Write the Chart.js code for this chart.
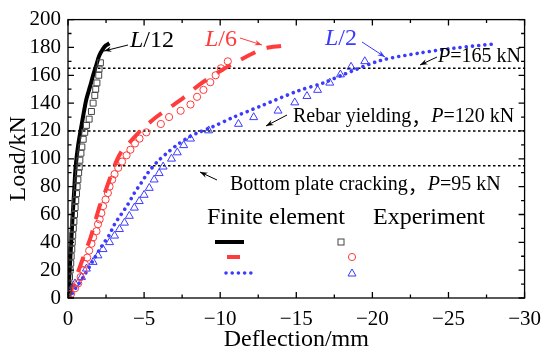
<!DOCTYPE html>
<html>
<head>
<meta charset="utf-8">
<script src="https://cdn.jsdelivr.net/npm/chart.js@4.4.0/dist/chart.umd.min.js"></script>
<style>
  body { margin: 0; background: #fff; }
  #wrap { width: 550px; height: 354px; }
</style>
</head>
<body>
<div id="wrap"><canvas id="load_chart" width="550" height="354"></canvas></div>
<script>
// L/12 finite element curve and test points
const fe12X = [0, -0.1, -0.2, -0.3, -0.4, -0.5, -0.67, -0.89, -1.05, -1.21, -1.45, -1.65, -1.85, -2.05, -2.3, -2.5, -2.72];
const fe12Y = [0, 18, 38, 58, 76, 94, 110, 124, 134, 143, 152, 160, 167, 174, 179, 181.5, 183];
const ex12X = [0, -0.03, -0.07, -0.1, -0.14, -0.18, -0.21, -0.25, -0.28, -0.31, -0.35, -0.39, -0.43, -0.47, -0.51, -0.56, -0.6, -0.65, -0.7, -0.74, -0.78, -0.85, -0.91, -1.0, -1.1, -1.21, -1.39, -1.54, -1.65, -1.76, -1.82, -1.9, -2.02, -2.04, -2.13];
const ex12Y = [0, 5, 10, 15, 20, 25, 30, 35, 40, 45, 50, 55, 60, 65, 70, 75, 80, 85, 90, 94, 99, 104, 108.5, 114, 119, 124, 128.5, 134, 140, 145.5, 150, 154.5, 160, 164.5, 169];

// L/6
const fe6X = [0, -0.3, -0.6, -0.9, -1.2, -1.5, -1.76, -2.08, -2.4, -2.84, -3.17, -3.5, -3.9, -4.8, -5.8, -6.7, -7.6, -8.6, -10, -11.3, -12.2, -13, -14];
const fe6Y = [0, 8, 17, 26, 35, 44, 54, 66, 75, 88.6, 98, 105, 110, 120.5, 130, 137, 144, 153, 163, 171, 176, 179.5, 181];
const ex6X = [0, -0.2, -0.46, -0.67, -0.83, -1.0, -1.1, -1.26, -1.39, -1.54, -1.65, -1.87, -1.97, -2.08, -2.19, -2.3, -2.47, -2.62, -2.73, -2.9, -3.06, -3.3, -3.55, -3.85, -4.1, -4.4, -4.7, -5.15, -6.1, -6.64, -7.4, -8.05, -8.48, -8.9, -9.35, -9.7, -10.05, -10.5];
const ex6Y = [0, 3, 7, 10.5, 15, 20, 24.5, 29, 34, 39, 43.5, 48, 53, 56.5, 61, 66, 70.7, 75.4, 80, 85, 89, 93.5, 98, 102.5, 106.5, 111, 114.5, 119, 125, 130, 134.5, 139, 144.5, 149.5, 155, 160, 165, 170];

// L/2
const fe2X = [0, -0.5, -1.0, -1.6, -2.2, -2.7, -3.06, -3.49, -3.92, -4.36, -4.8, -5.23, -5.88, -6.6, -7.3, -7.95, -8.6, -9.45, -10.8, -12.8, -15.1, -16.8, -18.1, -20.5, -23.1, -25.3, -28];
const fe2Y = [0, 7, 15, 26, 37, 45, 53, 60, 67, 75.4, 82.5, 89.6, 98, 105, 111, 115.6, 119, 122.7, 129.5, 138.5, 148.7, 154.6, 160.5, 170.5, 176, 179.4, 182.5];
const ex2X = [-0.13, -0.46, -0.89, -1.21, -1.65, -1.97, -2.3, -2.73, -3.06, -3.38, -3.71, -4.03, -4.36, -4.68, -5.0, -5.34, -5.66, -5.99, -6.25, -6.8, -7.18, -7.6, -8.05, -9.24, -11.2, -12.2, -13.8, -14.9, -15.7, -16.4, -17.2, -17.9, -18.6, -19.5];
const ex2Y = [4.5, 10.4, 15, 21, 25.8, 30.5, 35, 40, 44.7, 49.4, 54, 58.9, 64.8, 69.5, 74, 79, 85, 89.6, 94.3, 100, 104.5, 109.7, 114.4, 120.3, 125, 129.8, 134.5, 140.4, 145, 149.4, 154.6, 160.5, 166, 170];

// characteristic loads (kN) and the x range they span
const refLoads = [165, 120, 95];
const refSpan = [0, -30];

const xTicks = [0, -5, -10, -15, -20, -25, -30];
const yTicks = [0, 20, 40, 60, 80, 100, 120, 140, 160, 180, 200];

const SERIF = '"Liberation Serif", "Times New Roman", "Noto Serif CJK SC", "Noto Sans CJK SC", serif';
const RED = '#ff3b3b';
const BLUE = '#3b3bff';

function pts(xs, ys){
    return xs.map((v, i) => ({x: v, y: ys[i]}));
}

let datasets = [];
refLoads.forEach(p => {
    datasets.push({
        data: refSpan.map(v => ({x: v, y: p})),
        showLine: true, pointRadius: 0, borderColor: '#000', borderWidth: 1.6,
        borderDash: [2.5, 2.5], order: 5
    });
});
datasets.push(
    {data: pts(ex12X, ex12Y), pointStyle: 'rect', pointRadius: 4.2, borderWidth: 1,
     borderColor: '#444', backgroundColor: 'rgba(0,0,0,0)', showLine: false},
    {data: pts(ex6X, ex6Y), pointStyle: 'circle', pointRadius: 3.6, borderWidth: 1,
     borderColor: RED, backgroundColor: 'rgba(0,0,0,0)', showLine: false},
    {data: pts(ex2X, ex2Y), pointStyle: 'triangle', pointRadius: 4.6, borderWidth: 1,
     borderColor: BLUE, backgroundColor: 'rgba(0,0,0,0)', showLine: false},
    {data: pts(fe12X, fe12Y), showLine: true, pointRadius: 0, borderColor: '#000',
     borderWidth: 4, tension: 0.3},
    {data: pts(fe6X, fe6Y), showLine: true, pointRadius: 0, borderColor: RED,
     borderWidth: 4, borderDash: [16, 12], tension: 0.3},
    {data: pts(fe2X, fe2Y), showLine: true, pointRadius: 0, borderColor: BLUE,
     borderWidth: 3.6, borderDash: [0.01, 6.2], borderCapStyle: 'round', tension: 0.3}
);

function arrow(ctx, x1, y1, x2, y2, color){
    ctx.save();
    ctx.strokeStyle = color; ctx.fillStyle = color; ctx.lineWidth = 1;
    ctx.beginPath(); ctx.moveTo(x1, y1); ctx.lineTo(x2, y2); ctx.stroke();
    let a = Math.atan2(y2 - y1, x2 - x1);
    ctx.beginPath();
    ctx.moveTo(x2, y2);
    ctx.lineTo(x2 - 8 * Math.cos(a - 0.35), y2 - 8 * Math.sin(a - 0.35));
    ctx.lineTo(x2 - 5 * Math.cos(a), y2 - 5 * Math.sin(a));
    ctx.lineTo(x2 - 8 * Math.cos(a + 0.35), y2 - 8 * Math.sin(a + 0.35));
    ctx.closePath(); ctx.fill();
    ctx.restore();
}

function rich(ctx, parts, x, y){
    ctx.save();
    ctx.textBaseline = 'middle'; ctx.textAlign = 'left';
    parts.forEach(p => {
        ctx.font = p[1];
        ctx.fillStyle = p[2] || '#000';
        ctx.fillText(p[0], x, y);
        x += ctx.measureText(p[0]).width;
    });
    ctx.restore();
}

const decor = {
    id: 'decor',
    afterDatasetsDraw(chart){
        const {ctx, chartArea: a, scales: {x, y}} = chart;
        ctx.save();
        // frame and inward ticks
        ctx.strokeStyle = '#000'; ctx.lineWidth = 1.3;
        ctx.strokeRect(a.left, a.top, a.right - a.left, a.bottom - a.top);
        for (let v = 0; v >= -30; v -= 2.5){
            let px = x.getPixelForValue(v);
            let len = (v % 5 === 0) ? 6 : 3.5;
            ctx.beginPath();
            ctx.moveTo(px, a.bottom); ctx.lineTo(px, a.bottom - len);
            ctx.moveTo(px, a.top); ctx.lineTo(px, a.top + len);
            ctx.stroke();
        }
        for (let v = 0; v <= 200; v += 10){
            let py = y.getPixelForValue(v);
            let len = (v % 20 === 0) ? 6 : 3.5;
            ctx.beginPath();
            ctx.moveTo(a.left, py); ctx.lineTo(a.left + len, py);
            ctx.moveTo(a.right, py); ctx.lineTo(a.right - len, py);
            ctx.stroke();
        }
        ctx.restore();

        // curve labels
        const it = 'italic 24px ' + SERIF, up = '24px ' + SERIF;
        rich(ctx, [['L', it], ['/12', up]], 130, 41);
        arrow(ctx, 128, 45, 104, 51, '#000');
        rich(ctx, [['L', it, RED], ['/6', up, RED]], 205, 40);
        arrow(ctx, 240, 38, 262, 45, RED);
        rich(ctx, [['L', it, BLUE], ['/2', up, BLUE]], 325, 39);
        arrow(ctx, 362, 42, 385, 57, BLUE);

        // load level notes
        const f20 = '20px ' + SERIF, i20 = 'italic 20px ' + SERIF;
        const cjk = '20px "Noto Sans CJK SC", sans-serif';
        rich(ctx, [['P', i20], ['=165 kN', f20]], 438, 57);
        arrow(ctx, 437, 57, 420, 65, '#000');
        rich(ctx, [['Rebar yielding', f20], ['\uFF0C', cjk], ['P', i20], ['=120 kN', f20]], 293, 117);
        arrow(ctx, 287, 115, 266, 126, '#000');
        rich(ctx, [['Bottom plate cracking', f20], ['\uFF0C', cjk], ['P', i20], ['=95 kN', f20]], 230, 185);
        arrow(ctx, 217, 180, 200, 172, '#000');

        // in-plot legend
        const f24 = '24px ' + SERIF;
        rich(ctx, [['Finite element', f24]], 207, 218);
        rich(ctx, [['Experiment', f24]], 373, 218);
        ctx.save();
        ctx.lineWidth = 4; ctx.strokeStyle = '#000';
        ctx.beginPath(); ctx.moveTo(215, 242); ctx.lineTo(244, 242); ctx.stroke();
        ctx.strokeStyle = RED;
        ctx.beginPath(); ctx.moveTo(227, 257); ctx.lineTo(240, 257); ctx.stroke();
        ctx.strokeStyle = BLUE; ctx.lineWidth = 3.6; ctx.lineCap = 'round';
        ctx.setLineDash([0.01, 6.2]);
        ctx.beginPath(); ctx.moveTo(226, 273); ctx.lineTo(257, 273); ctx.stroke();
        ctx.setLineDash([]); ctx.lineCap = 'butt'; ctx.lineWidth = 1;
        ctx.strokeStyle = '#444'; ctx.strokeRect(338, 239, 6, 6);
        ctx.strokeStyle = RED;
        ctx.beginPath(); ctx.arc(352, 257, 3.6, 0, Math.PI * 2); ctx.stroke();
        ctx.strokeStyle = BLUE;
        ctx.beginPath(); ctx.moveTo(352, 269); ctx.lineTo(356, 276); ctx.lineTo(348, 276); ctx.closePath(); ctx.stroke();
        ctx.restore();
    }
};

function minus(v){
    return v === 0 ? '0' : '\u2212' + Math.abs(v);
}

let chart = new Chart('load_chart', {
    type: 'scatter',
    data: {datasets: datasets},
    options: {
        responsive: false,
        animation: false,
        layout: {padding: {left: 0, right: 21, top: 16, bottom: 0}},
        plugins: {legend: {display: false}, tooltip: {enabled: false}},
        scales: {
            x: {
                type: 'linear', min: -30, max: 0, reverse: true,
                afterFit: s => { s.height = 56; },
                afterBuildTicks: s => { s.ticks = xTicks.map(v => ({value: v})); },
                grid: {display: false, drawTicks: false},
                border: {display: false},
                ticks: {color: '#000', padding: 9, font: {family: SERIF, size: 21},
                        autoSkip: false, maxRotation: 0, callback: v => minus(v)},
                title: {display: true, text: 'Deflection/mm', color: '#000',
                        font: {family: SERIF, size: 24}, padding: {top: 0, bottom: 0}}
            },
            y: {
                type: 'linear', min: 0, max: 200,
                afterFit: s => { s.width = 68; },
                afterBuildTicks: s => { s.ticks = yTicks.map(v => ({value: v})); },
                grid: {display: false, drawTicks: false},
                border: {display: false},
                ticks: {color: '#000', padding: 7, autoSkip: false, font: {family: SERIF, size: 21}},
                title: {display: true, text: 'Load/kN', color: '#000',
                        font: {family: SERIF, size: 24}, padding: {top: 4, bottom: 0}}
            }
        }
    },
    plugins: [decor]
});
</script>
</body>
</html>
